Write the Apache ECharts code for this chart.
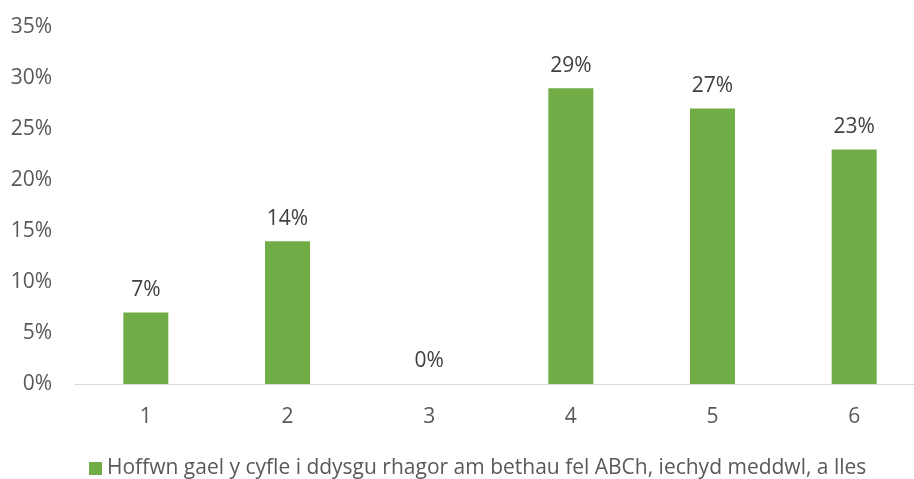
<!DOCTYPE html>
<html><head><meta charset="utf-8">
<script src="https://cdn.jsdelivr.net/npm/echarts@6/dist/echarts.min.js"></script>
<style>html,body{margin:0;padding:0;background:#fff}#c{width:914px;height:479px}</style>
</head><body><div id="c"></div>
<script>
const categories = ['1','2','3','4','5','6'];
const values = [7, 14, 0, 29, 27, 23];
const seriesName = 'Hoffwn gael y cyfle i ddysgu rhagor am bethau fel ABCh, iechyd meddwl, a lles';
const FONT = '"Open Sans"';
const chart = echarts.init(document.getElementById('c'));
chart.setOption({
  animation: false,
  textStyle: {fontFamily: FONT},
  grid: {left: 75, top: 27, width: 850, bottom: 95, containLabel: false, outerBoundsMode: 'none'},
  legend: {
    top: 453, left: 84, itemWidth: 13, itemHeight: 13, itemGap: 7,
    icon: 'rect',
    textStyle: {fontFamily: FONT, fontSize: 21, color: '#595959'},
    data: [seriesName]
  },
  xAxis: {
    type: 'category', data: categories,
    axisLine: {lineStyle: {color: '#d9d9d9', width: 1}},
    axisTick: {show: false},
    axisLabel: {fontFamily: FONT, fontSize: 21, color: '#595959', margin: 23}
  },
  yAxis: {
    type: 'value', min: 0, max: 35, interval: 5,
    splitLine: {show: false},
    axisLine: {show: false}, axisTick: {show: false},
    axisLabel: {fontFamily: FONT, fontSize: 21, color: '#595959', margin: 23, formatter: '{value}%'}
  },
  series: [{
    name: seriesName, type: 'bar', data: values, barWidth: 45,
    itemStyle: {color: '#70ad47'},
    label: {show: true, position: 'top', distance: 12, formatter: '{c}%', fontFamily: FONT, fontSize: 21, color: '#404040'}
  }]
});
</script></body></html>
